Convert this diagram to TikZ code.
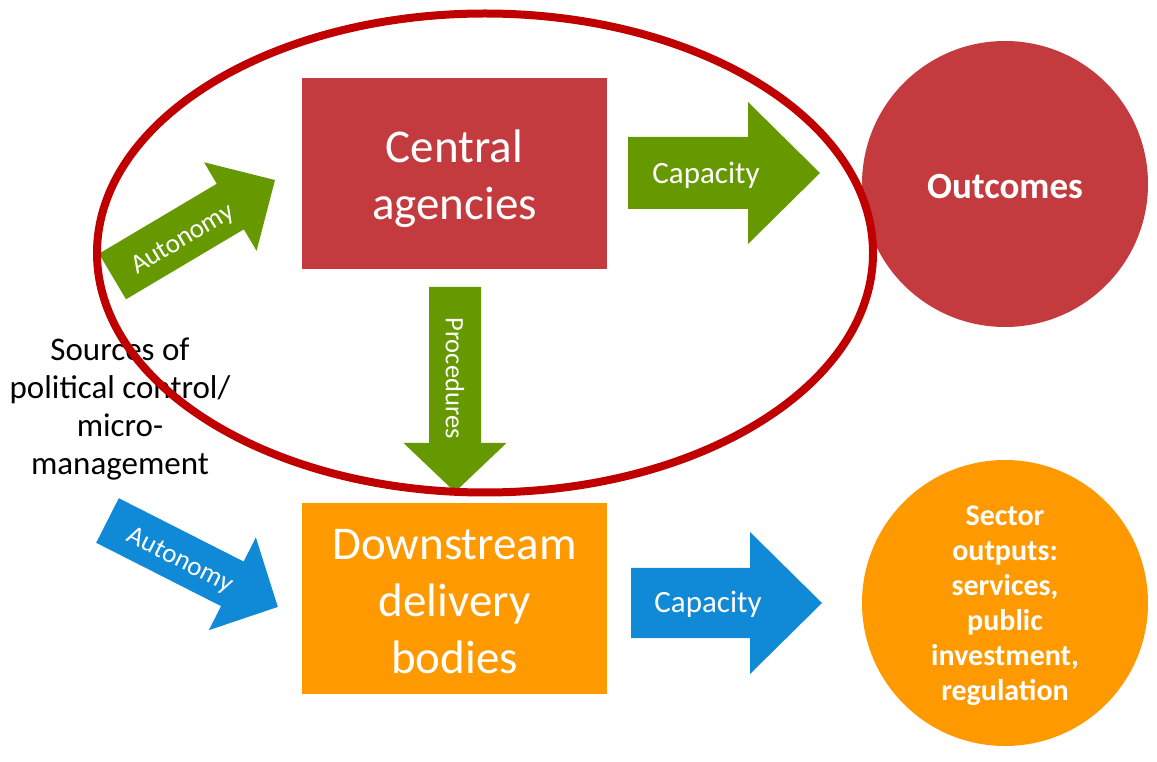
\documentclass[tikz,border=0pt]{standalone}
\usepackage{fontspec}
\setmainfont{Carlito}
\definecolor{boxred}{HTML}{C43B3F}
\definecolor{ringred}{HTML}{C00000}
\definecolor{agreen}{HTML}{669900}
\definecolor{aorange}{HTML}{FF9900}
\definecolor{ablue}{HTML}{108AD6}
\tikzset{
  pics/blockarrow/.style n args={5}{code={
    \path[fill=#5] (0,{-#3/2}) -- ({#1-#2},{-#3/2}) -- ({#1-#2},{-#4/2}) -- (#1,0)
      -- ({#1-#2},{#4/2}) -- ({#1-#2},{#3/2}) -- (0,{#3/2}) -- cycle;
  }},
  bigbox/.style={rectangle, minimum width=305pt, minimum height=191pt, inner sep=0pt},
  boxtext/.style={text=white, align=center, inner sep=0pt, font=\fontsize{47}{57}\selectfont},
  bigcirc/.style={circle, minimum size=286pt, inner sep=0pt},
  circtext/.style={text=white, align=center, inner sep=0pt},
  arrlabel/.style={text=white, inner sep=0pt},
}
\begin{document}
\begin{tikzpicture}[x=1pt,y=1pt]
\useasboundingbox (0,0) rectangle (1157,761);
\fill[white] (0,0) rectangle (1157,761);
% boxes
\node[bigbox, fill=boxred] (central) at (454.5,587.5) {};
\node[boxtext] (centralt) at ([yshift=-5pt]central.center) {Central\\agencies};
\node[bigbox, fill=aorange] (down) at (454.5,162.5) {};
\node[boxtext] (downt) at ([yshift=-3pt]down.center) {Downstream\\delivery\\bodies};
% circles
\node[bigcirc, fill=boxred] (outc) at (1005,577) {};
\node[circtext, font=\fontsize{37}{44}\selectfont\bfseries] (outct) at ([yshift=-3pt]outc.center) {Outcomes};
\node[bigcirc, fill=aorange] (sect) at (1005,158) {};
\node[circtext, font=\fontsize{30}{35}\selectfont\bfseries] (sectt) at ([yshift=-3pt]sect.center) {Sector\\outputs:\\services,\\public\\investment,\\regulation};
% side text
\node[align=center, inner sep=0pt, font=\fontsize{33}{38}\selectfont] (src) at (120,352) {Sources of\\political control/\\micro-\\management};
% arrows
\pic[shift={(112.5,484.5)}, rotate=30.7] {blockarrow={189}{52}{53}{103}{agreen}};
\node[arrlabel, rotate=30.7, font=\fontsize{27}{30}\selectfont] (aut1) at (183,521) {Autonomy};
\pic[shift={(107.5,240.5)}, rotate=-26.9] {blockarrow={191}{51}{50}{104}{ablue}};
\node[arrlabel, rotate=-26.9, font=\fontsize{27}{30}\selectfont] (aut2) at (180,200) {Autonomy};
\pic[shift={(628,588)}] {blockarrow={192}{72}{72}{142}{agreen}};
\node[arrlabel, font=\fontsize{31}{34}\selectfont] (cap1) at (706,586) {Capacity};
\pic[shift={(631,158)}] {blockarrow={191}{72}{70}{142}{ablue}};
\node[arrlabel, font=\fontsize{31}{34}\selectfont] (cap2) at (708,157) {Capacity};
\pic[shift={(455,474)}, rotate=-90] {blockarrow={205}{49}{52}{103}{agreen}};
\node[arrlabel, rotate=-90, font=\fontsize{26.5}{30}\selectfont] (proc) at (455,383) {Procedures};
% ring
\draw[ringred, line width=8pt] (485,508) ellipse [x radius=388, y radius=239.5];
\end{tikzpicture}
\end{document}
